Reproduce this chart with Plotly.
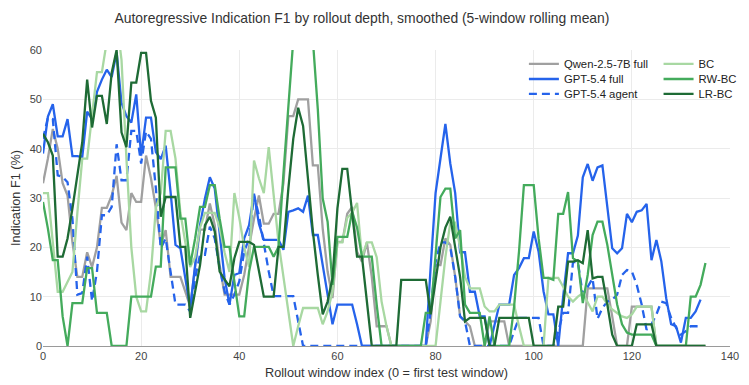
import plotly.graph_objects as go

# ---------------- data ----------------
window_index = list(range(136))

qwen_full = [
    33, 38, 44, 40, 33, 30.5, 21, 14, 14, 19,
    16, 20, 28, 28, 30.5, 34.5, 25, 23.5, 31, 29.2,
    29.2, 38.6, 34, 28, 20.5, 23.5, 14, 14, 14, 11,
    8, 16, 23.6, 23.6, 28.9, 24.5, 16.4, 10.4, 10.4, 10.4,
    10.4, 14.4, 20.5, 25.8, 30.5, 24.8, 24.8, 26.8, 26.8, 33,
    46.6, 46.6, 50, 50, 50, 36.6, 36.6, 23.8, 15.1, 9.7,
    21.1, 21.1, 26.8, 28.2, 19.1, 17.1, 21, 14, 4, 4,
    4, 0, 0, 0, 0, 0, 0, 0, 0, 5,
    16.4, 16.4, 21.8, 20.5, 14, 6, 5, 4, 0, 0,
    0, 5, 5, 5, 5, 0, 0, 0, 0, 0,
    0, 0, 0, 0, 0, 0, 0, 0, 0, 0,
    0, 11.7, 11.7, 11.7, 11.7, 11.7, 6, 0, 0, 0,
    8, 8, 8, 8, 8, 0, 0, 0, 0, 0,
    0, 0, 0, 0, 0, 0,
]

gpt_full = [
    39, 46.5, 49, 42.5, 42.5, 46, 38.5, 38.5, 38.3, 47.5,
    46, 51.5, 54, 56, 54.5, 59.5, 49.3, 46.6, 45.3, 51,
    38.6, 46.3, 46.3, 39.3, 37.9, 40.6, 31.2, 20.5, 19.8, 13.8,
    7.7, 16.4, 24.5, 29.9, 34.2, 31.9, 22.5, 13.8, 8.4, 14.4,
    14.8, 21.8, 24.5, 30.9, 24.8, 21.5, 21.5, 21.5, 21.5, 19.5,
    27.2, 27.5, 27.9, 27.2, 30.5, 22.5, 22.5, 16.4, 10.4, 4.4,
    8.4, 8.4, 8.4, 8.4, 4.4, 0, 0, 0, 0, 0,
    0, 0, 0, 0, 0, 0, 0, 0, 0, 16,
    31, 38, 45, 37, 31, 19, 19, 11, 11, 6,
    6, 0, 4, 8.4, 8.4, 8.4, 14.4, 15.8, 17.8, 17.8,
    23.2, 19.1, 11.1, 6.4, 6.4, 0, 10, 18.8, 18.8, 22.4,
    34.2, 36.9, 33.5, 36.2, 36.6, 28.5, 19.8, 18.8, 19.8, 26.8,
    25.1, 27.2, 27.5, 28.8, 17.4, 21.5, 17.2, 9.7, 4.4, 4.0,
    0.7, 5.7, 5.7, 7.0, 9.4,
]

gpt_agent = [
    42, 46.3, 46, 34.6, 34.3, 33.2, 25.8, 10.4, 10.7, 18.1,
    9.1, 15.1, 26.5, 26.5, 28.2, 40.9, 33.6, 33.6, 43.6, 43.6,
    37, 43.5, 42, 32, 19.8, 21.8, 15, 8.4, 8.4, 8.4,
    7, 13.8, 18.5, 18.5, 24.2, 21.8, 15.8, 11.1, 8.4, 10.4,
    13.1, 19.1, 21.8, 30.5, 26.5, 20.5, 15.1, 10.1, 10.1, 10.1,
    10.1, 10.1, 5, 0, 0, 0, 0, 0, 0, 0,
    0, 0, 0, 0, 0, 0, 0, 0, 0, 0,
    0, 0, 0, 0, 0, 0, 0, 0, 0, 7,
    17, 21, 21, 20, 14, 6, 5, 0, 0, 0,
    0, 0, 0, 0, 0, 0, 3, 5.7, 5.7, 5.7,
    5.7, 5.7, 0, 0, 0, 3, 6.7, 6.7, 17, 17,
    10.4, 12, 13.7, 5.5, 7.7, 9, 9.4, 10.4, 14.4, 15.4,
    15.1, 12.4, 8.4, 3.3, 4.4, 6.4, 9, 8.7, 5.7, 3.7,
    2.3, 3, 4, 4, 4,
]

bc = [
    31, 31, 21, 11, 11, 13, 15, 27, 38, 38,
    47, 55.5, 55.5, 63, 68, 66, 58, 38, 20, 10,
    7, 7, 15, 28, 31, 43.6, 43.6, 38, 27, 21,
    16, 18, 24, 27, 27, 27, 24, 19, 15, 31,
    26, 20, 16, 37.6, 34, 31, 40.3, 30, 21, 14,
    7, 0, 4, 7.7, 7.7, 7.7, 7.7, 4.4, 7, 11,
    21, 21, 26, 27, 29, 18, 21, 21, 18, 9,
    4, 0, 0, 0, 0, 0, 0, 0, 0, 0,
    0, 9, 18, 25, 25, 20, 14, 11.7, 11.7, 11.7,
    8, 7, 7, 8.4, 8.4, 8.4, 8.4, 4, 0, 0,
    0, 0, 0, 13.8, 13.8, 13.8, 12, 10, 9, 10,
    10.7, 9, 7, 10, 10, 8.5, 7.4, 6.7, 6, 5.7,
    6.4, 8, 8, 8, 8, 0, 0, 0, 0, 0,
    0, 0, 0, 0, 0, 0,
]

rw_bc = [
    29.2, 23.8, 17.4, 17.4, 6, 0, 8.7, 8.7, 8.7, 15.8,
    15.8, 6.7, 6.7, 6.7, 0, 0, 0, 0, 10, 10,
    10, 10, 10, 16.1, 16.1, 36.2, 36.2, 36.2, 25.8, 25.8,
    16.4, 21.8, 28.2, 28.2, 32.6, 32.6, 25.8, 20.1, 20.1, 13,
    6, 6, 15.1, 20.1, 20.1, 20.1, 20.1, 18.1, 20.1, 35,
    48.7, 62, 70, 75, 72, 62, 48, 29.9, 25.2, 12.4,
    22.1, 22.1, 22.1, 27.2, 24, 18.1, 18.1, 18.1, 8.4, 0,
    0, 0, 0, 0, 0, 0, 0, 0, 6.7, 6.7,
    18.5, 30.2, 31.9, 31.9, 21.8, 23.5, 8.4, 6.7, 6.7, 6.7,
    0, 6, 0, 0, 0, 0, 8, 19.1, 32.6, 32.6,
    32.6, 21.8, 13.8, 13.8, 13.4, 26.8, 26.8, 31.2, 17.8, 17.1,
    8.7, 14.4, 22.5, 25.2, 25.2, 20.5, 14.4, 8.4, 4.4, 2.7,
    2.3, 2.3, 2.3, 2.3, 2.3, 0, 0, 0, 0, 0,
    0, 0, 10, 10, 12.4, 16.8,
]

lr_bc = [
    43, 41.3, 38.6, 18.1, 18.1, 21.8, 27.9, 34.6, 41.3, 54,
    44.3, 50.7, 50.7, 45, 55.4, 60, 43.3, 40.3, 53.4, 53.4,
    59.4, 59.4, 49.7, 46.3, 26.2, 30.2, 30.2, 30.2, 20.1, 20.1,
    5.7, 11, 16.4, 24.5, 26.2, 23.2, 15.1, 13.5, 12.1, 17.8,
    21.1, 21.1, 21.1, 20.5, 15, 10, 10, 10, 20.1, 20.1,
    31.9, 42, 48.3, 44.6, 33.9, 23.2, 14.4, 6.4, 9, 13.8,
    27.9, 35.9, 35.9, 27.2, 18.1, 18.1, 9, 0, 0, 0,
    0, 0, 0, 13.4, 13.4, 13.4, 13.4, 13.4, 13.4, 6.4,
    13, 20, 24, 26.2, 20, 14, 5, 5.7, 5.7, 5.7,
    5.7, 0, 0, 5.7, 5.7, 5.7, 5.7, 5.7, 5.7, 5.7,
    0, 0, 0, 0, 0, 8, 8, 17.1, 17.1, 17.4,
    16.8, 23.5, 13.7, 14, 14, 8.4, 2.3, 0, 0, 0,
    0, 4.4, 4.4, 4.4, 4.4, 0, 0, 0, 0, 0,
    0, 0, 0, 0, 0, 0,
]

series_names = ["Qwen-2.5-7B full", "GPT-5.4 full", "GPT-5.4 agent", "BC", "RW-BC", "LR-BC"]
series_values = [qwen_full, gpt_full, gpt_agent, bc, rw_bc, lr_bc]
series_colors = ["#a0a0a0", "#2563eb", "#2563eb", "#a8d8a2", "#44ab5c", "#1e6b35"]
series_dash = ["solid", "solid", "8px,5px", "solid", "solid", "solid"]
legend_ids = ["legend", "legend2", "legend3", "legend4", "legend5", "legend6"]

x_tick_vals = [0, 20, 40, 60, 80, 100, 120, 140]
y_tick_vals = [0, 10, 20, 30, 40, 50, 60]

FONT = "Liberation Sans, Arial, Helvetica, sans-serif"

fig = go.Figure()
for name, vals, col, dash, lg in zip(series_names, series_values, series_colors, series_dash, legend_ids):
    fig.add_trace(go.Scatter(
        x=window_index[:len(vals)], y=vals, mode="lines", name=name,
        line=dict(color=col, width=2.3, dash=dash),
        legend=lg, hoverinfo="skip",
    ))

# legend placement: two columns of three rows
leg_x = [0.700, 0.700, 0.700, 0.896, 0.896, 0.896]
leg_y = [0.953, 0.902, 0.8515, 0.953, 0.902, 0.8515]
legend_layout = {}
for lg, lx, ly in zip(legend_ids, leg_x, leg_y):
    legend_layout[lg] = dict(
        x=lx, y=ly, xanchor="left", yanchor="middle",
        bgcolor="rgba(0,0,0,0)", borderwidth=0,
        font=dict(family=FONT, size=11.3, color="#222"),
        itemwidth=30,
    )

fig.update_layout(
    width=749, height=385,
    margin=dict(l=42.7, r=7.5, t=50, b=36.7),
    paper_bgcolor="white", plot_bgcolor="white",
    font=dict(family=FONT, color="#444"),
    title=dict(
        text="Autoregressive Indication F1 by rollout depth, smoothed (5-window rolling mean)",
        x=0.4833, xref="container", xanchor="center",
        y=0.953, yref="container", yanchor="middle",
        font=dict(family=FONT, size=13.9, color="#333"),
    ),
    showlegend=True,
    **legend_layout,
)

fig.update_xaxes(
    range=[0, 140], tickvals=x_tick_vals,
    showgrid=True, gridcolor="#ebebeb", gridwidth=1,
    zeroline=False, showline=True, linecolor="#9a9a9a", linewidth=1,
    ticks="", tickfont=dict(family=FONT, size=11, color="#444"),
    title=dict(text="Rollout window index (0 = first test window)",
               font=dict(family=FONT, size=12.7, color="#333"), standoff=6),
)
fig.update_yaxes(
    range=[0, 60], tickvals=y_tick_vals,
    showgrid=True, gridcolor="#ebebeb", gridwidth=1,
    zeroline=False, showline=False,
    ticks="", tickfont=dict(family=FONT, size=11, color="#444"),
    title=dict(text="Indication F1 (%)",
               font=dict(family=FONT, size=12.7, color="#333"), standoff=6),
)

fig.write_html("out.html")
